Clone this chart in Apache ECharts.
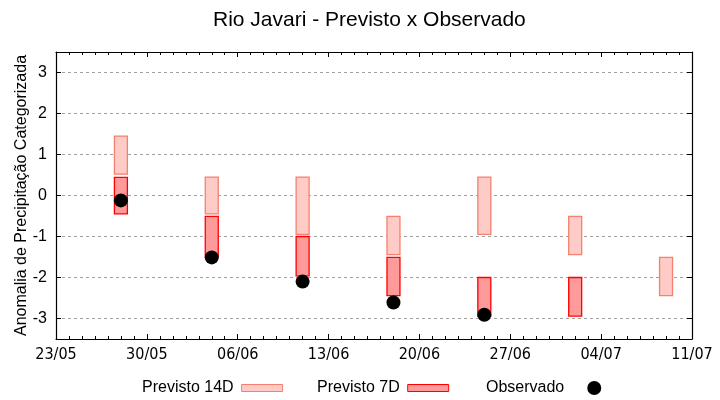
<!DOCTYPE html>
<html>
<head>
<meta charset="utf-8">
<script src="https://cdn.jsdelivr.net/npm/echarts@6/dist/echarts.min.js"></script>
<style>html,body{margin:0;padding:0;background:#fff}#c{width:720px;height:400px}</style>
</head>
<body>
<div id="c"></div>
<script>
// ---- data ----
const startDate = '23/05';
const xTicks = ['23/05','30/05','06/06','13/06','20/06','27/06','04/07','11/07'];
const yTicks = [-3,-2,-1,0,1,2,3];
const dates = ['28/05','04/06','11/06','18/06','25/06','02/07','09/07'];
const p14Low  = [0.52, -0.45, -0.95, -1.44, -0.95, -1.44, -2.44];
const p14High = [1.45,  0.45,  0.45, -0.51,  0.45, -0.51, -1.51];
const p7Low   = [-0.45, -1.5, -1.96, -2.44, -2.95, -2.94, null];
const p7High  = [0.44, -0.51, -1.0, -1.51, -2.0, -2.0, null];
const observed = [-0.12, -1.51, -2.1, -2.61, -2.91, null, null];

function dayOffset(s){
  const [d,m] = s.split('/').map(Number);
  const [d0,m0] = startDate.split('/').map(Number);
  return (Date.UTC(2024,m-1,d) - Date.UTC(2024,m0-1,d0))/86400000;
}
const xs = dates.map(dayOffset);
const d14 = xs.map((x,i)=>[x,p14Low[i],p14High[i]]);
const d7 = xs.map((x,i)=>[x,p7Low[i],p7High[i]]).filter(r=>r[1]!=null);
const dObs = xs.map((x,i)=>[x,observed[i]]).filter(r=>r[1]!=null);

const FONT = "'Liberation Sans', Arial, sans-serif";
const NARROW = "'Liberation Sans Narrow', 'DejaVu Sans Condensed', 'Liberation Sans', sans-serif";
const c14 = {fill:'#fecbc7', stroke:'#f5806f'};
const c7 = {fill:'#ff9a9a', stroke:'#ff0000'};

function boxRender(col){
  return function(params, api){
    const x = api.value(0), lo = api.value(1), hi = api.value(2);
    const p1 = api.coord([x-0.5, hi]);
    const p2 = api.coord([x+0.5, lo]);
    return {type:'rect', shape:{x:p1[0], y:p1[1], width:p2[0]-p1[0], height:p2[1]-p1[1]},
      style:{fill:col.fill, stroke:col.stroke, lineWidth:1.3}};
  };
}

const xMax = dayOffset(xTicks[xTicks.length-1]);
const baseX = {
  type:'value', min:0, max:xMax, interval:7,
  axisLine:{show:true, onZero:false, lineStyle:{color:'#000', width:1.2}},
  axisTick:{show:true, inside:true, length:5, lineStyle:{color:'#000'}},
  minorTick:{show:true, splitNumber:7, length:3, lineStyle:{color:'#000'}},
  splitLine:{show:false}, minorSplitLine:{show:false}
};
const baseY = {
  type:'value', min:-3.5, max:3.5,
  axisLine:{show:true, onZero:false, lineStyle:{color:'#000', width:1.2}},
  axisTick:{show:true, inside:true, length:5, customValues:yTicks, lineStyle:{color:'#000'}}
};

const option = {
  animation:false,
  backgroundColor:'#fff',
  title:{text:'Rio Javari - Previsto x Observado', left:208, top:5,
    textStyle:{fontFamily:FONT, fontSize:21, fontWeight:'normal', color:'#000'}},
  grid:{left:56, right:28, top:52, bottom:61, containLabel:false, outerBoundsMode:'none'},
  legend:[
    {data:[{name:'Previsto 14D', icon:'rect', itemStyle:{color:c14.fill, borderColor:c14.stroke, borderWidth:1}}],
     left:137, top:375, align:'right', itemWidth:41, itemHeight:7,
     textStyle:{fontFamily:FONT, fontSize:16, color:'#000', padding:[0,3,0,0]}},
    {data:[{name:'Previsto 7D', icon:'rect', itemStyle:{color:c7.fill, borderColor:c7.stroke, borderWidth:1}}],
     left:312, top:375, align:'right', itemWidth:41, itemHeight:7,
     textStyle:{fontFamily:FONT, fontSize:16, color:'#000', padding:[0,3,0,0]}},
    {data:[{name:'Observado', icon:'circle', itemStyle:{color:'#000', opacity:1}}],
     left:481, top:375, align:'right', itemWidth:14, itemHeight:14,
     textStyle:{fontFamily:FONT, fontSize:16, color:'#000', padding:[0,18,0,0]}}
  ],
  xAxis:[
    Object.assign({}, baseX, {position:'bottom',
      axisLabel:{show:true, margin:8, fontFamily:NARROW, fontSize:16, color:'#000',
        formatter:v=>xTicks[Math.round(v/7)]}}),
    Object.assign({}, baseX, {position:'top', axisLabel:{show:false}})
  ],
  yAxis:[
    Object.assign({}, baseY, {position:'left',
      name:'Anomalia de Precipitação Categorizada', nameLocation:'middle', nameGap:26,
      nameMoveOverlap:false,
      nameTextStyle:{fontFamily:FONT, fontSize:16, color:'#000'},
      axisLabel:{show:true, customValues:yTicks, margin:9, fontFamily:FONT, fontSize:16, color:'#000'},
      splitLine:{show:true, lineStyle:{color:'#a0a0a0', type:[3,3], width:1}}}),
    Object.assign({}, baseY, {position:'right', axisLabel:{show:false}, splitLine:{show:false}})
  ],
  series:[
    {name:'Previsto 14D', type:'custom', renderItem:boxRender(c14), data:d14,
     encode:{x:0, y:[1,2]}, itemStyle:{color:c14.fill, borderColor:c14.stroke}, z:2},
    {name:'Previsto 7D', type:'custom', renderItem:boxRender(c7), data:d7,
     encode:{x:0, y:[1,2]}, itemStyle:{color:c7.fill, borderColor:c7.stroke}, z:3},
    {name:'Observado', type:'scatter', data:dObs, symbol:'circle', symbolSize:14,
     itemStyle:{color:'#000', opacity:1}, z:4}
  ]
};
const chart = echarts.init(document.getElementById('c'), null, {renderer:'canvas'});
chart.setOption(option);
</script>
</body>
</html>
